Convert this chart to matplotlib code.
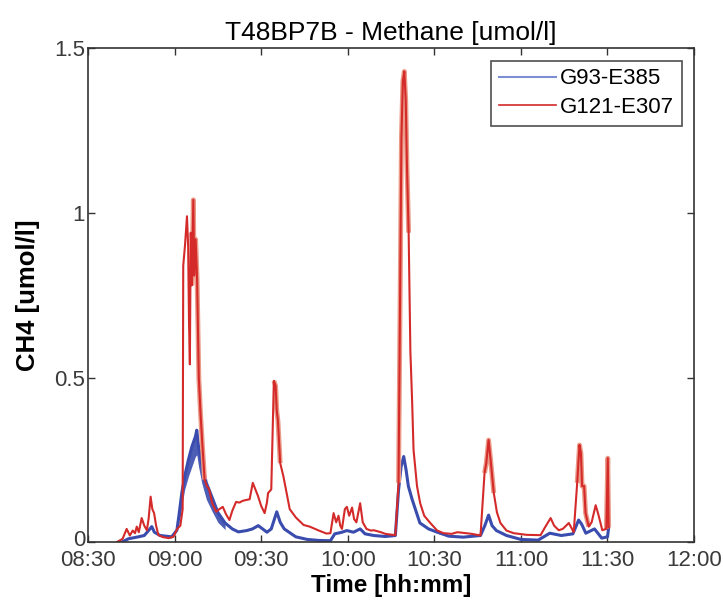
import matplotlib
matplotlib.use("Agg")
import matplotlib.pyplot as plt
import matplotlib.transforms as mtransforms
from matplotlib.ticker import FixedLocator, FuncFormatter

# minutes after 08:30
red_t = [10.0, 12.0, 13.4, 14.5, 15.5, 16.3, 16.9, 17.6, 18.6, 19.5, 20.4, 21.0, 21.7, 22.3, 22.9, 23.6,
         24.4, 26.0, 28.0, 29.6, 30.9, 32.0, 32.8, 33.0, 33.6, 34.0, 34.3, 34.7, 35.0, 35.3, 35.6, 36.0,
         36.5, 36.8, 37.3, 37.8, 38.4, 39.0, 39.6, 40.4, 41.2, 42.0, 43.0, 44.4, 45.5, 46.7, 47.8, 49.0,
         50.0, 51.3, 52.5, 53.5, 54.8, 56.0, 57.1, 58.0, 58.9, 60.0, 61.2, 62.0, 62.4, 63.5, 64.4, 65.0,
         65.4, 65.8, 66.6, 67.7, 69.9, 72.0, 74.7, 76.8, 80.0, 82.6, 84.0, 85.1, 86.0, 86.8, 87.4, 88.0,
         89.0, 89.7, 90.5, 91.5, 92.2, 93.0, 94.3, 95.2, 96.5, 98.0, 99.0, 101.5, 103.0, 106.5, 107.6, 108.2,
         108.6, 109.1, 109.6, 110.1, 110.5, 111.1, 111.7, 112.3, 112.8, 114.0, 115.1, 116.5, 118.6, 121.0,
         123.2, 126.0, 128.0, 131.0, 133.0, 136.0, 137.4, 138.0, 138.8, 139.5, 140.6, 141.7, 142.9, 145.0,
         147.5, 152.0, 156.8, 158.5, 160.3, 161.5, 163.1, 164.5, 166.6, 168.3, 169.5, 170.3, 170.8, 171.2,
         171.9, 172.4, 173.5, 174.5, 175.9, 176.8, 178.2, 179.6, 180.1, 180.4]
red_v = [0.0, 0.01, 0.04, 0.02, 0.035, 0.027, 0.047, 0.03, 0.073, 0.05, 0.036, 0.07, 0.138, 0.10, 0.088, 0.05,
         0.021, 0.015, 0.012, 0.016, 0.04, 0.05, 0.10, 0.84, 0.90, 0.95, 0.99, 0.90, 0.67, 0.54, 0.94, 0.78,
         1.04, 0.81, 0.92, 0.80, 0.50, 0.39, 0.30, 0.19, 0.17, 0.16, 0.12, 0.092, 0.10, 0.107, 0.085, 0.067,
         0.095, 0.122, 0.12, 0.125, 0.128, 0.13, 0.18, 0.16, 0.14, 0.11, 0.088, 0.12, 0.149, 0.16, 0.49, 0.475,
         0.40, 0.37, 0.24, 0.20, 0.10, 0.075, 0.052, 0.047, 0.035, 0.026, 0.027, 0.088, 0.06, 0.08, 0.05, 0.04,
         0.10, 0.107, 0.08, 0.105, 0.07, 0.06, 0.118, 0.06, 0.04, 0.035, 0.036, 0.03, 0.025, 0.021, 0.18, 0.79,
         1.23, 1.40, 1.43, 1.34, 1.15, 0.94, 0.58, 0.43, 0.28, 0.17, 0.118, 0.08, 0.058, 0.035,
         0.027, 0.025, 0.03, 0.027, 0.025, 0.02, 0.21, 0.24, 0.31, 0.25, 0.149, 0.09, 0.058, 0.035,
         0.027, 0.022, 0.021, 0.047, 0.073, 0.05, 0.036, 0.04, 0.058, 0.03, 0.18, 0.295, 0.27, 0.17,
         0.17, 0.088, 0.047, 0.06, 0.112, 0.085, 0.036, 0.04, 0.255, 0.045]

blue_t = [11.7, 14.0, 17.5, 19.5, 21.0, 22.1, 23.0, 25.0, 29.0, 30.8, 31.5, 32.5, 33.5, 34.8, 36.0, 37.2,
          37.7, 38.3, 39.4, 41.0, 42.9, 45.0, 47.5, 50.0, 52.1, 55.0, 57.0, 59.0, 60.5, 62.0, 63.5, 65.4,
          66.6, 68.0, 72.0, 76.0, 80.0, 84.0, 85.5, 88.0, 89.7, 92.0, 94.3, 96.0, 99.0, 103.0, 106.5, 107.6,
          108.5, 109.4, 110.2, 111.0, 112.3, 115.0, 118.0, 121.0, 125.0, 130.0, 136.0, 137.5, 138.8, 140.0,
          141.5, 145.0, 150.0, 156.0, 160.0, 164.0, 168.0, 170.0, 171.0, 172.5, 175.5, 178.0, 180.0, 180.5]
blue_v = [0.0, 0.01, 0.016, 0.02, 0.035, 0.047, 0.03, 0.02, 0.016, 0.036, 0.08, 0.149, 0.20, 0.25, 0.29, 0.32,
          0.34, 0.29, 0.24, 0.18, 0.138, 0.09, 0.058, 0.04, 0.031, 0.035, 0.04, 0.05, 0.04, 0.03, 0.04, 0.092,
          0.06, 0.04, 0.016, 0.008, 0.005, 0.004, 0.025, 0.03, 0.035, 0.03, 0.04, 0.025, 0.02, 0.017, 0.02, 0.158,
          0.23, 0.26, 0.22, 0.17, 0.13, 0.058, 0.04, 0.03, 0.018, 0.015, 0.02, 0.05, 0.082, 0.05,
          0.035, 0.02, 0.008, 0.006, 0.027, 0.02, 0.025, 0.067, 0.055, 0.027, 0.04, 0.012, 0.016, 0.05]

# lower edge of the noisy blue band around the first peak
band_t = [31.5, 32.5, 33.5, 34.8, 36.0, 37.2, 37.7, 38.3, 39.4, 41.0, 42.9, 45.0, 47.5]
band_lo = [0.05, 0.11, 0.16, 0.20, 0.23, 0.26, 0.265, 0.23, 0.18, 0.13, 0.095, 0.06, 0.038]

# index ranges of the red series where the signal is noisy (drawn with a light halo)
noisy = [(31, 40), (62, 67), (94, 102), (116, 121), (134, 141), (145, 148)]

tick_labels = ["08:30", "09:00", "09:30", "10:00", "10:30", "11:00", "11:30", "12:00"]

plt.rcParams["font.family"] = ["Liberation Sans", "DejaVu Sans"]


def to_hours(ts):
    return [8.5 + x / 60.0 for x in ts]


fig = plt.figure(figsize=(7.23, 6.05), dpi=100)
ax = fig.add_axes([0.1217, 0.104, 0.8383, 0.816])

red = "#d42a2a"
salmon = "#eb9a88"
blue = "#3a4cae"

ax.fill_between(to_hours(band_t), band_lo, blue_v[10:23], color=blue, lw=0, alpha=0.9)
ax.plot(to_hours(blue_t), blue_v, color=blue, lw=2.2, label="G93-E385")
for a, b in noisy:
    ax.plot(to_hours(red_t[a:b]), red_v[a:b], color=salmon, lw=3.5, solid_capstyle="butt")
ax.plot(to_hours(red_t), red_v, color=red, lw=1.5, label="G121-E307")

ax.set_xlim(8.5, 12.0)
ax.set_ylim(0, 1.5)
ax.xaxis.set_major_locator(FixedLocator([8.5 + 0.5 * i for i in range(8)]))
ax.xaxis.set_major_formatter(FuncFormatter(lambda v, p: tick_labels[int(round((v - 8.5) * 2))]))
ax.set_yticks([0, 0.5, 1.0, 1.5])
ax.set_yticklabels(["0", "0.5", "1", "1.5"])
ax.tick_params(direction="in", top=True, right=True, length=5, width=1,
               labelsize=16, labelcolor="#3a3a3a", color="#333333")
ax.tick_params(axis="x", pad=6)
ax.tick_params(axis="y", pad=2)
for s in ax.spines.values():
    s.set_color("#333333")
    s.set_linewidth(1.2)

# the "0" label sits right on the corner, lift it a little so it clears 08:30
zero = ax.get_yticklabels()[0]
zero.set_transform(zero.get_transform() + mtransforms.ScaledTranslation(0, 3 / 72, fig.dpi_scale_trans))

ax.set_title("T48BP7B - Methane [umol/l]", fontsize=19, pad=6)
ax.set_xlabel("Time [hh:mm]", fontsize=17.5, fontweight="bold", labelpad=2)
ax.set_ylabel("CH4 [umol/l]", fontsize=18.5, fontweight="bold", labelpad=10)

leg = ax.legend(loc="upper right", fontsize=16, frameon=True, fancybox=False,
                edgecolor="#222222", handlelength=2.55, borderaxespad=0.55,
                handletextpad=0.2, borderpad=0.35, labelspacing=0.35)
leg.get_frame().set_linewidth(1.2)
leg.legend_handles[0].set_color("#7d8ed2")
leg.legend_handles[0].set_linewidth(1.5)
leg.legend_handles[1].set_linewidth(1.2)

fig.savefig("out.png", dpi=100)
